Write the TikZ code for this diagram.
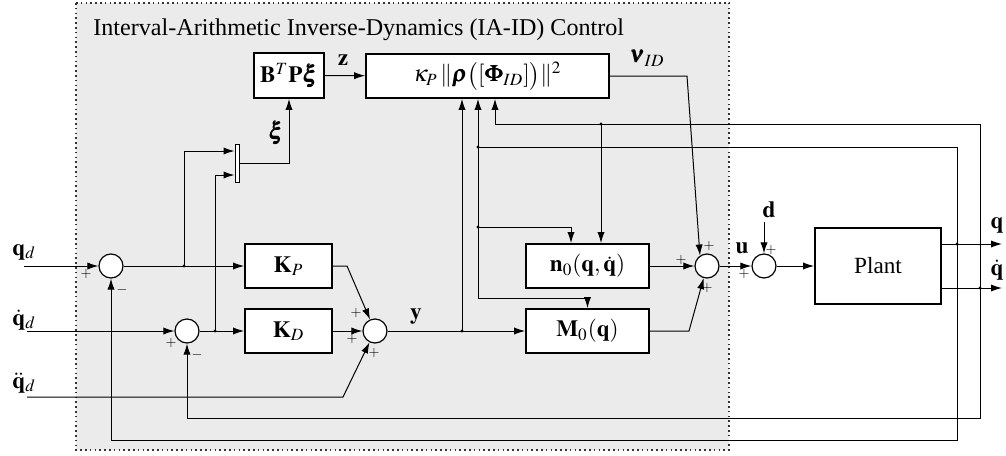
\documentclass[tikz,border=0pt]{standalone}
\usepackage{mathptmx}
\usepackage[no-math]{fontspec}
\setmainfont{Liberation Serif}
\usepackage{bm}
\usetikzlibrary{positioning, arrows.meta}

\begin{document}
\begin{tikzpicture}[
  x=0.5pt, y=-0.5pt,
  font=\fontsize{11.6}{13}\selectfont,
  block/.style={
    rectangle, draw, line width=0.9pt, fill=white,
    inner sep=0pt, minimum height=22pt
  },
  sumc/.style={circle, draw, line width=0.6pt, fill=white, inner sep=0pt, minimum size=12pt},
  mux/.style={rectangle, draw, line width=0.5pt, fill=white, inner sep=0pt,
    minimum width=2pt, minimum height=19pt},
  arr/.style={-{Latex[length=5.5pt, width=3.6pt]}, line width=0.5pt},
  wire/.style={line width=0.5pt},
  grp/.style={fill=gray!16, draw=black!80, line width=0.8pt, dash pattern=on 0.8pt off 1.6pt},
  sgn/.style={font=\fontsize{7}{8}\selectfont, inner sep=0pt},
  lbl/.style={inner sep=0pt}
]
\useasboundingbox (0,0) rectangle (1006,455);

% controller region
\draw[grp] (76,3) rectangle (729,450);
\node[anchor=base west, lbl, font=\fontsize{12.05}{14}\selectfont] (title) at (93,35) {Interval-Arithmetic Inverse-Dynamics (IA-ID) Control};

% blocks
\node[block, minimum width=35pt, minimum height=22.5pt] (btp) at (289,75.5) {$\mathbf{B}^T\mathbf{P}\bm{\xi}$};
\node[block, minimum width=121.5pt] (kap) at (487.5,76) {$\kappa_P\,\|\bm{\rho}\bigl([\bm{\Phi}_{ID}]\bigr)\|^2$};
\node[mux] (mx) at (237,163) {};
\node[block, minimum width=43.5pt] (kp) at (288.5,266) {$\mathbf{K}_P$};
\node[block, minimum width=43.5pt] (kd) at (288.5,331) {$\mathbf{K}_D$};
\node[block, minimum width=61.5pt] (n0) at (587.5,266) {$\mathbf{n}_0(\mathbf{q},\dot{\mathbf{q}})$};
\node[block, minimum width=61.5pt] (m0) at (587.5,331) {$\mathbf{M}_0(\mathbf{q})$};
\node[block, minimum width=63pt, minimum height=38pt] (plant) at (878,266) {Plant};

% summing junctions
\node[sumc] (s1) at (111,266) {};
\node[sumc] (s2) at (187,331) {};
\node[sumc] (s3) at (375,331) {};
\node[sumc] (su) at (707,266) {};
\node[sumc] (sd) at (764,266) {};

% signs
\node[sgn] (s1a) at (86,274) {$+$};
\node[sgn] (s1b) at (122,290) {$-$};
\node[sgn] (s2a) at (171,343) {$+$};
\node[sgn] (s2b) at (197,355) {$-$};
\node[sgn] (s3a) at (356,313) {$+$};
\node[sgn] (s3b) at (352,339) {$+$};
\node[sgn] (s3c) at (374,353) {$+$};
\node[sgn] (sua) at (681,260) {$+$};
\node[sgn] (sub) at (709,246) {$+$};
\node[sgn] (suc) at (707,288) {$+$};
\node[sgn] (sda) at (744,274) {$+$};
\node[sgn] (sdb) at (771,250) {$+$};

% signal labels
\node[anchor=base west, lbl] (lqd) at (12,255) {$\mathbf{q}_d$};
\node[anchor=base west, lbl] (ldqd) at (12,325) {$\dot{\mathbf{q}}_d$};
\node[anchor=base west, lbl] (lddqd) at (12,388) {$\ddot{\mathbf{q}}_d$};
\node[lbl] (lxi) at (276,133) {$\bm{\xi}$};
\node[lbl] (lz) at (343,60) {$\mathbf{z}$};
\node[lbl] (lnu) at (647,58) {$\bm{\nu}_{ID}$};
\node[lbl] (ly) at (416,316) {$\mathbf{y}$};
\node[lbl] (lu) at (742,248) {$\mathbf{u}$};
\node[lbl] (ld) at (769,210) {$\mathbf{d}$};
\node[lbl] (lq) at (997,225) {$\mathbf{q}$};
\node[lbl] (ldq) at (997,270) {$\dot{\mathbf{q}}$};

% points
\coordinate (qdin) at (24,266);
\coordinate (dqdin) at (27,331);
\coordinate (ddqdin) at (27,397);
\coordinate (ddqbend) at (343,397);
\coordinate (je) at (184,266);
\coordinate (jde) at (215,331);
\coordinate (kpc) at (347,266);
\coordinate (jy) at (462,331);
\coordinate (nuc) at (687,76);
\coordinate (m0c) at (689,331);
\coordinate (dtop) at (764,222);
\coordinate (jq) at (957,244);
\coordinate (jdq) at (980,288);
\coordinate (qend) at (1002,244);
\coordinate (dqend) at (1002,288);
\coordinate (qlow) at (957,440);
\coordinate (dqlow) at (980,418);
\coordinate (qhigh) at (957,147);
\coordinate (dqhigh) at (980,124);
\coordinate (jqk) at (478,147);
\coordinate (jqn) at (478,227);
\coordinate (jqm) at (478,298);
\coordinate (nq) at (571,227);
\coordinate (dqk) at (495,124);
\coordinate (jdqn) at (601,124);

% reference inputs
\draw[arr] (qdin) -- (s1);
\draw[arr] (dqdin) -- (s2);
\draw[arr] (ddqdin) -- (ddqbend) -- (s3);

% errors and sliding variable
\draw[arr] (s1) -- (kp);
\draw[arr] (s2) -- (kd);
\draw[arr] (je) |- ([yshift=6pt]mx.west);
\draw[arr] (jde) |- ([yshift=-6pt]mx.west);
\draw[arr] (mx) -| (btp);
\draw[arr] (btp) -- (kap);
\draw[arr] (kap) -- (nuc) -- (su.124);

% PD part
\draw[arr] (kp) -- (kpc) -- (s3);
\draw[arr] (kd) -- (s3);
\draw[arr] (s3) -- (m0);
\draw[arr] (jy) -- (jy |- kap.south);

% nominal model
\draw[arr] (n0) -- (su);
\draw[arr] (m0) -- (m0c) -- (su);
\draw[arr] (su) -- (sd);
\draw[arr] (dtop) -- (sd);
\draw[arr] (sd) -- (plant);

% outputs
\draw[arr] (plant.east |- jq) -- (qend);
\draw[arr] (plant.east |- jdq) -- (dqend);

% feedback
\draw[arr] (jq) -- (qlow) -| (s1);
\draw[arr] (jdq) -- (dqlow) -| (s2);
\draw[arr] (jq) -- (qhigh) -- (jqk) -- (jqk |- kap.south);
\draw[arr] (jdq) -- (dqhigh) -- (dqk) -- (dqk |- kap.south);
\draw[arr] (jdqn) -- (jdqn |- n0.north);
\draw[wire] (jqk) -- (jqm);
\draw[arr] (jqn) -- (nq) -- (nq |- n0.north);
\draw[arr] (jqm) -| (m0);

\foreach \p in {je, jde, jy, jq, jdq, jqk, jqn, jdqn}
  \fill (\p) circle (0.85pt);
\end{tikzpicture}
\end{document}
